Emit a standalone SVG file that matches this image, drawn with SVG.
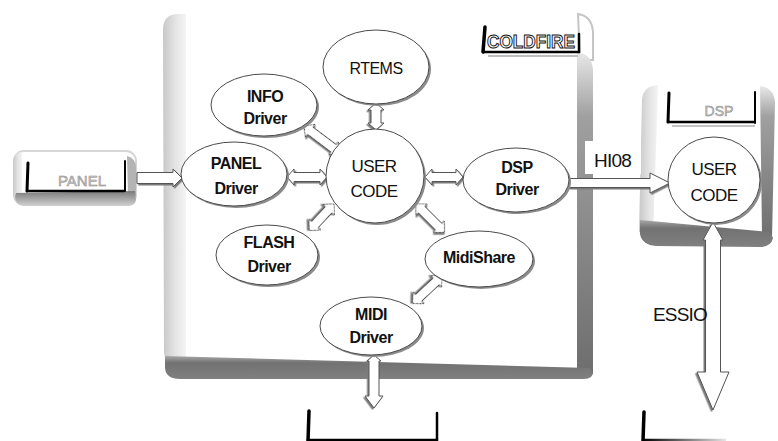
<svg xmlns="http://www.w3.org/2000/svg" width="778" height="441" viewBox="0 0 778 441">
<defs>
<linearGradient id="gL" x1="0" y1="0" x2="1" y2="0"><stop offset="0" stop-color="#c8c8c8"/><stop offset="0.5" stop-color="#e2e2e2"/><stop offset="1" stop-color="#f4f4f4"/></linearGradient>
<linearGradient id="gRv" x1="0" y1="0" x2="0" y2="1"><stop offset="0" stop-color="#e8e8e8"/><stop offset="0.2" stop-color="#a0a0a0"/><stop offset="1" stop-color="#6e6e6e"/></linearGradient>
<linearGradient id="gB" x1="0" y1="0" x2="0" y2="1"><stop offset="0" stop-color="#a8a8a8"/><stop offset="0.3" stop-color="#727272"/><stop offset="1" stop-color="#808080"/></linearGradient>
<linearGradient id="gPB" x1="0" y1="0" x2="0" y2="1"><stop offset="0" stop-color="#7a7a7a"/><stop offset="1" stop-color="#d0d0d0"/></linearGradient>
<linearGradient id="gFade" gradientUnits="userSpaceOnUse" x1="643" y1="0" x2="726" y2="0"><stop offset="0" stop-color="#000"/><stop offset="1" stop-color="#000" stop-opacity="0.1"/></linearGradient>
<filter id="ds" x="-20%" y="-20%" width="140%" height="140%"><feDropShadow dx="1.5" dy="1.5" stdDeviation="0.4" flood-color="#7a7a7a"/></filter>
<style>
.lbl{font-family:"Liberation Sans",Arial,sans-serif;fill:#111;text-anchor:middle}
.drv{font-size:16px;font-weight:bold;letter-spacing:-0.5px}
.uc{font-size:17px;letter-spacing:-0.5px}
.ell{fill:#fff;stroke:#4a4a4a;stroke-width:1}
.sh{fill:#8c8c8c}
.ar{fill:#fff;stroke:#555;stroke-width:1;filter:url(#ds)}
.brk{fill:none;stroke:#000;stroke-linecap:round}
.tag{font-family:"Liberation Sans",Arial,sans-serif;text-anchor:middle;fill:#c8c8c8;stroke:#8a8a8a;stroke-width:0.5}
.big{font-family:"Liberation Sans",Arial,sans-serif;font-size:19px;fill:#111;letter-spacing:-0.8px}
</style>
</defs>
<rect width="778" height="441" fill="#fff"/>

<g id="coldfire-card">
<path d="M186,14 L178,14 Q163,14 163,30 L164,352 Q164,360 172,360 L186,360 Z" fill="url(#gL)"/>
<path d="M578,14 Q592,16 593,32 L593,60 L580,60 Z" fill="none" stroke="#c4c4c4" stroke-width="2"/>
<path d="M577,52 Q592,54 593,70 L593,374 L577,374 Z" fill="url(#gRv)"/>
<path d="M165,356 L590,368 L593,372 Q593,379 584,379 L180,379 Q166,379 165,368 Z" fill="url(#gB)"/>
<path class="brk" d="M485,27 L483,52" stroke-width="3.5"/>
<path class="brk" d="M483,52 L579,52" stroke-width="2.5"/>
<path class="brk" d="M579,34 L579,52" stroke-width="2.5"/>
<path d="M488,56 L578,56" stroke="#bdbdbd" stroke-width="2"/>
<text x="531" y="48" font-family="Liberation Sans,Arial,sans-serif" font-size="19" font-weight="bold" text-anchor="middle" fill="#fff" stroke="#111" stroke-width="1" textLength="88" lengthAdjust="spacingAndGlyphs">COLDFIRE</text>
</g>

<g id="panel-card">
<rect x="14" y="151" width="122" height="54" rx="10" fill="#fff" stroke="#d6d6d6" stroke-width="2"/>
<path d="M22,152 Q13,152 13,164 L13,196 L22,196 Z" fill="url(#gL)"/>
<path d="M127,156 Q136,158 136,168 L136,196 L128,196 Z" fill="#b4b4b4"/>
<path d="M16,193 L135,191 L136,200 Q135,206 127,206 L24,206 Q15,204 15,197 Z" fill="url(#gPB)"/>
<path class="brk" d="M28,163 L27,191" stroke-width="3"/>
<path class="brk" d="M27,191 L124,191" stroke-width="2.5"/>
<path class="brk" d="M125,161 L125,191" stroke-width="2"/>
<text class="tag" x="82" y="186" font-size="15">PANEL</text>
</g>

<g id="dsp-card">
<path d="M658,85 Q643,86 642,100 L639,232 L653,238 L658,90 Z" fill="url(#gL)"/>
<path d="M760,86 Q774,88 775,102 L772,238 L762,234 Z" fill="url(#gRv)"/>
<path d="M640,220 L770,232 L773,238 Q771,247 760,247 L656,246 Q642,245 640,234 Z" fill="url(#gB)"/>
<path class="brk" d="M669,93 L668,122" stroke-width="3"/>
<path class="brk" d="M668,122 L754,122" stroke-width="2.5"/>
<path class="brk" d="M755,92 L755,123" stroke-width="2"/>
<path d="M672,126 L755,126" stroke="#c4c4c4" stroke-width="2"/>
<text class="tag" x="719" y="116" font-size="14">DSP</text>
</g>

<g id="bottom-card-1">
<path class="brk" d="M309,411 L308,441" stroke-width="3.5"/>
<path class="brk" d="M308,440 L436,440" stroke-width="2.5"/>
<path class="brk" d="M437,413 L437,441" stroke-width="2.5"/>
</g>
<g id="bottom-card-2">
<path class="brk" d="M644,412 L643,441" stroke-width="3.5"/>
<path d="M643,440 L726,440" stroke="url(#gFade)" stroke-width="2.5" fill="none"/>
</g>

<rect x="585" y="141" width="56" height="33" fill="#fff"/>

<g id="connectors">
<path class="ar" transform="translate(376,103) rotate(90)" d="M0,0 L7,-8 L7,-5 L20,-5 L20,-8 L27,0 L20,8 L20,5 L7,5 L7,8 Z"/>
<path class="ar" transform="translate(304,126) rotate(37)" d="M0,0 L8,-8 L8,-4.5 L37,-4.5 L37,-8 L45,0 L37,8 L37,4.5 L8,4.5 L8,8 Z"/>
<path class="ar" transform="translate(287,177)" d="M0,0 L7,-8 L7,-4.5 L33,-4.5 L33,-8 L40,0 L33,8 L33,4.5 L7,4.5 L7,8 Z"/>
<path class="ar" transform="translate(425,177)" d="M0,0 L7,-8 L7,-4.5 L31,-4.5 L31,-8 L38,0 L31,8 L31,4.5 L7,4.5 L7,8 Z"/>
<path class="ar" transform="translate(334,204) rotate(133)" d="M0,0 L8,-8 L8,-4.5 L28,-4.5 L28,-8 L36,0 L28,8 L28,4.5 L8,4.5 L8,8 Z"/>
<path class="ar" transform="translate(416,204) rotate(45)" d="M0,0 L8,-8 L8,-4.5 L32,-4.5 L32,-8 L40,0 L32,8 L32,4.5 L8,4.5 L8,8 Z"/>
<path class="ar" transform="translate(442,276) rotate(137)" d="M0,0 L8,-8 L8,-4.5 L32,-4.5 L32,-8 L40,0 L32,8 L32,4.5 L8,4.5 L8,8 Z"/>
<path class="ar" transform="translate(374,355) rotate(90)" d="M0,0 L6,-7 L6,-5 L41,-5 L41,-9 L53,0 L41,9 L41,5 L6,5 L6,7 Z"/>
<path class="ar" transform="translate(137,178)" d="M0,-5.5 L36,-5.5 L36,-9 L45,0 L36,9 L36,5.5 L0,5.5 Z"/>
<path class="ar" transform="translate(568,183)" d="M0,-4.5 L82,-4.5 L82,-10 L102,0 L82,10 L82,4.5 L0,4.5 Z"/>
<path class="ar" transform="translate(713,222) rotate(90)" d="M0,0 L18,-10 L18,-7.5 L150,-7.5 L150,-16 L188,0 L150,16 L150,7.5 L18,7.5 L18,10 Z"/>
<text class="big" x="594" y="167">HI08</text>
<text class="big" x="653" y="321" font-size="17">ESSIO</text>
</g>

<g id="rtems">
<ellipse class="sh" cx="378" cy="69" rx="53" ry="37"/>
<ellipse class="ell" cx="376" cy="67" rx="53" ry="37"/>
<text class="lbl" x="376" y="74" font-size="16" letter-spacing="-0.5">RTEMS</text>
</g>
<g id="info-driver">
<ellipse class="sh" cx="266" cy="107" rx="53" ry="31"/>
<ellipse class="ell" cx="264" cy="105" rx="53" ry="31"/>
<text class="lbl drv" x="265" y="102">INFO</text>
<text class="lbl drv" x="265" y="124">Driver</text>
</g>
<g id="panel-driver">
<ellipse class="sh" cx="236" cy="176" rx="53" ry="32"/>
<ellipse class="ell" cx="234" cy="174" rx="53" ry="32"/>
<text class="lbl drv" x="236" y="169">PANEL</text>
<text class="lbl drv" x="236" y="194">Driver</text>
</g>
<g id="user-code">
<ellipse class="sh" cx="377" cy="178" rx="49" ry="47"/>
<ellipse class="ell" cx="375" cy="176" rx="49" ry="47"/>
<text class="lbl uc" x="374" y="172">USER</text>
<text class="lbl uc" x="374" y="197">CODE</text>
</g>
<g id="dsp-driver">
<ellipse class="sh" cx="518" cy="182" rx="53" ry="32"/>
<ellipse class="ell" cx="516" cy="180" rx="53" ry="32"/>
<text class="lbl drv" x="517" y="173">DSP</text>
<text class="lbl drv" x="517" y="195">Driver</text>
</g>
<g id="flash-driver">
<ellipse class="sh" cx="269" cy="257" rx="51" ry="30"/>
<ellipse class="ell" cx="267" cy="255" rx="51" ry="30"/>
<text class="lbl drv" x="269" y="248">FLASH</text>
<text class="lbl drv" x="269" y="272">Driver</text>
</g>
<g id="midishare">
<ellipse class="sh" cx="481" cy="261" rx="54" ry="28"/>
<ellipse class="ell" cx="479" cy="259" rx="54" ry="28"/>
<text class="lbl drv" x="479" y="263">MidiShare</text>
</g>
<g id="midi-driver">
<ellipse class="sh" cx="373" cy="328" rx="51" ry="29"/>
<ellipse class="ell" cx="371" cy="326" rx="51" ry="29"/>
<text class="lbl drv" x="371" y="320">MIDI</text>
<text class="lbl drv" x="371" y="343">Driver</text>
</g>
<g id="dsp-user-code">
<ellipse class="sh" cx="716" cy="182" rx="46" ry="43"/>
<ellipse class="ell" cx="714" cy="180" rx="46" ry="43"/>
<text class="lbl uc" x="714" y="175">USER</text>
<text class="lbl uc" x="714" y="201">CODE</text>
</g>
</svg>
